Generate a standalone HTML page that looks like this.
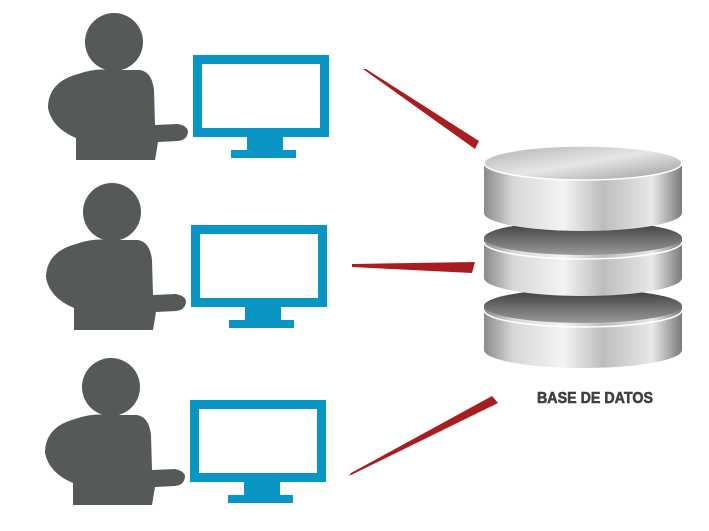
<!DOCTYPE html>
<html><head><style>body{margin:0;background:#fff}svg{display:block}</style></head><body>
<svg width="709" height="531" viewBox="0 0 709 531" xmlns="http://www.w3.org/2000/svg">
<defs>
<linearGradient id="side" x1="0" x2="1" y1="0" y2="0">
<stop offset="0" stop-color="#8a8a8a"/><stop offset="0.15" stop-color="#d8d8d8"/><stop offset="0.4" stop-color="#f4f4f4"/><stop offset="0.6" stop-color="#bdbdbd"/><stop offset="0.85" stop-color="#e8e8e8"/><stop offset="1" stop-color="#7a7a7a"/>
</linearGradient>
<linearGradient id="top" x1="0" x2="1" y1="0" y2="1">
<stop offset="0" stop-color="#b0b0b0"/><stop offset="0.5" stop-color="#e6e6e6"/><stop offset="1" stop-color="#9a9a9a"/>
</linearGradient>
<linearGradient id="dark" x1="0" x2="0" y1="0" y2="1">
<stop offset="0" stop-color="#3a3a3a"/><stop offset="1" stop-color="#9a9a9a"/>
</linearGradient>
<g id="user">
<circle cx="114" cy="42" r="29" fill="#555958"/>
<path d="M78 74 Q95 68 110 70 L140 70 Q152 72 154 90 L155 125 L178 124 Q188 126 188 132 Q187 140 178 141 L158 142 L155 160 L76 160 L76 138 Q52 128 48 108 Q48 82 78 74 Z" fill="#555958"/>
<rect x="197.5" y="59.5" width="127" height="73" fill="#fff" stroke="#0a96c4" stroke-width="9"/>
<rect x="247" y="137" width="36" height="13" fill="#0a96c4"/>
<rect x="231" y="150" width="65" height="8" fill="#0a96c4"/>
</g>
</defs>
<use href="#user"/>
<use href="#user" transform="translate(-2,170)"/>
<use href="#user" transform="translate(-3,345)"/>
<polygon points="363,69 366,69 479,141 475,149" fill="#a81d22"/>
<polygon points="352,264 475,262 472,273 352,267" fill="#a81d22"/>
<polygon points="349,476 351,473 492,396 498,403" fill="#a81d22"/>
<path d="M484 306 L484 350 A99 18 0 0 0 682 350 L682 306 Z" fill="url(#side)"/>
<ellipse cx="583" cy="306" rx="99" ry="17" fill="url(#dark)"/>
<path d="M484 310 A99 17 0 0 0 682 310" fill="none" stroke="#fff" stroke-width="1.5"/>
<path d="M484 238 L484 278 A99 18 0 0 0 682 278 L682 238 Z" fill="url(#side)"/>
<ellipse cx="583" cy="238" rx="99" ry="17" fill="url(#dark)"/>
<path d="M484 242 A99 17 0 0 0 682 242" fill="none" stroke="#fff" stroke-width="1.5"/>
<path d="M484 163 L484 213 A99 18 0 0 0 682 213 L682 163 Z" fill="url(#side)"/>
<ellipse cx="583" cy="163" rx="99" ry="17" fill="url(#top)" stroke="#fff" stroke-width="1.5"/>
<text x="595" y="403" text-anchor="middle" font-family="Liberation Sans, sans-serif" font-weight="bold" font-size="16" fill="#3d4244" stroke="#3d4244" stroke-width="0.6" textLength="116" lengthAdjust="spacingAndGlyphs">BASE DE DATOS</text>
</svg>
</body></html>
